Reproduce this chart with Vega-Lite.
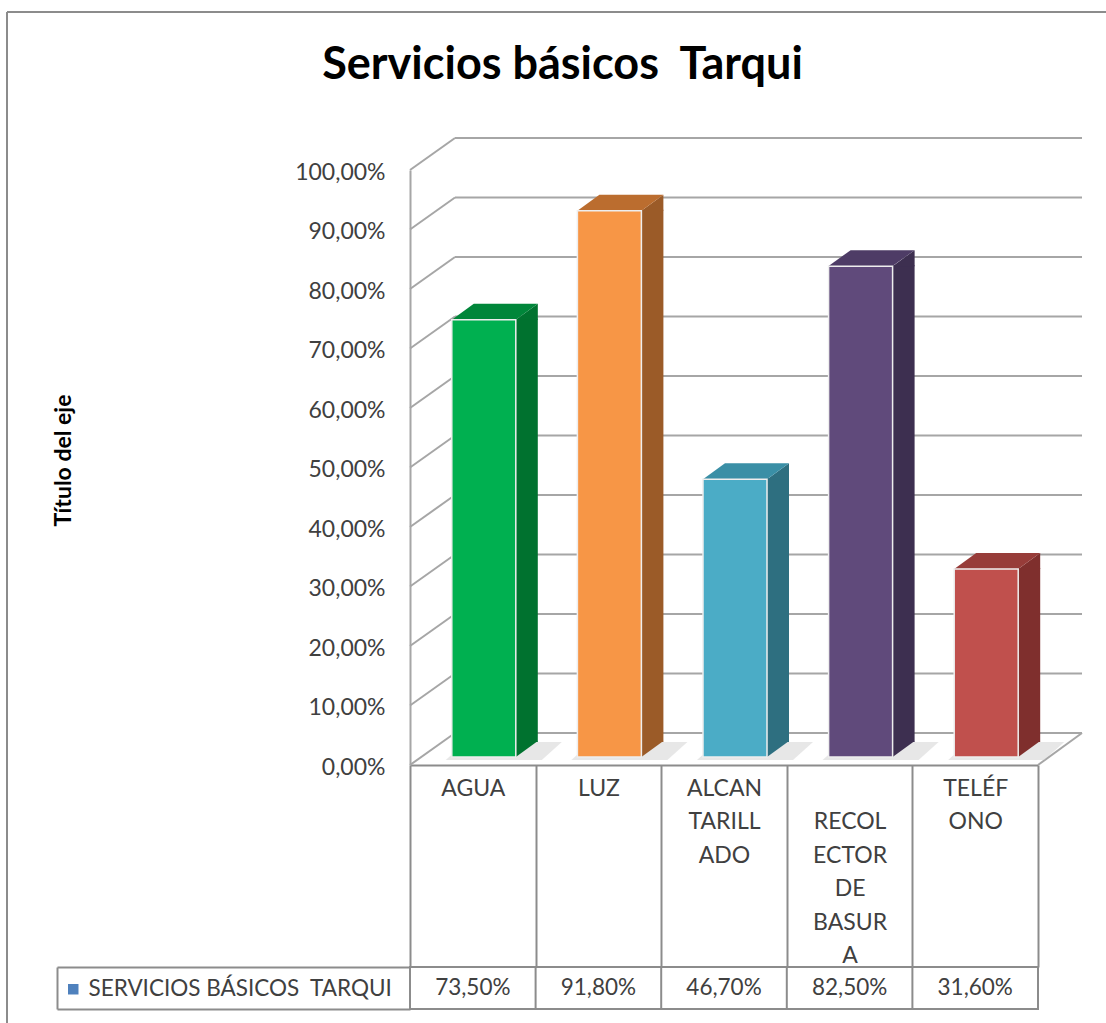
{
  "$schema": "https://vega.github.io/schema/vega-lite/v6.json",
  "padding": {"left": 6, "top": 11, "right": 0, "bottom": 0},
  "background": "white",
  "config": {
    "font": "Lato",
    "locale": {"number": {"decimal": ",", "thousands": ".", "grouping": [3], "currency": ["$", ""]}},
    "view": {"stroke": null}
  },
  "title": {"text": "Servicios básicos\u00a0 Tarqui", "font": "Lato", "fontSize": 45, "fontWeight": "bold", "color": "#000000", "anchor": "middle", "dx": 6, "offset": -113, "baseline": "alphabetic"},
  "datasets": {
    "servicios": [
      {"cat": "AGUA", "v": 0.735, "serie": "SERVICIOS BÁSICOS\u00a0 TARQUI"},
      {"cat": "LUZ", "v": 0.918, "serie": "SERVICIOS BÁSICOS\u00a0 TARQUI"},
      {"cat": "ALCANTARILLADO", "v": 0.467, "serie": "SERVICIOS BÁSICOS\u00a0 TARQUI"},
      {"cat": "RECOLECTOR DE BASURA", "v": 0.825, "serie": "SERVICIOS BÁSICOS\u00a0 TARQUI"},
      {"cat": "TELÉFONO", "v": 0.316, "serie": "SERVICIOS BÁSICOS\u00a0 TARQUI"}
    ],
    "ticks": [
      {"v": 0}, {"v": 0.1}, {"v": 0.2}, {"v": 0.3}, {"v": 0.4}, {"v": 0.5},
      {"v": 0.6}, {"v": 0.7}, {"v": 0.8}, {"v": 0.9}, {"v": 1}
    ]
  },
  "spacing": 202,
  "bounds": "flush",
  "vconcat": [
    {
      "width": 628,
      "height": 595,
      "resolve": {"scale": {"color": "independent"}},
      "layer": [
        {
          "data": {"name": "ticks"},
          "mark": {"type": "rule", "color": "#a6a6a6", "strokeWidth": 2, "xOffset": 45, "x2Offset": 44, "yOffset": -32},
          "encoding": {
            "x": {
              "datum": "AGUA", "type": "nominal", "bandPosition": 0,
              "scale": {"type": "band", "domain": ["AGUA", "LUZ", "ALCANTARILLADO", "RECOLECTOR DE BASURA", "TELÉFONO"], "paddingInner": 0, "paddingOuter": 0},
              "axis": {
                "orient": "bottom", "title": null,
                "domainColor": "#8c8c8c", "domainWidth": 2,
                "tickColor": "#8c8c8c", "tickWidth": 2, "tickSize": 202, "tickBand": "extent",
                "labelPadding": -190, "labelFontSize": 23, "labelColor": "#404040",
                "labelBaseline": "top", "labelLineHeight": 33.5, "labelAngle": 0, "labelAlign": "center",
                "labelExpr": "datum.value == 'ALCANTARILLADO' ? ['ALCAN','TARILL','ADO'] : datum.value == 'RECOLECTOR DE BASURA' ? ['','RECOL','ECTOR','DE','BASUR','A'] : datum.value == 'TELÉFONO' ? ['TELÉF','ONO'] : datum.value"
              }
            },
            "x2": {"datum": "TELÉFONO", "bandPosition": 1},
            "y": {
              "field": "v", "type": "quantitative",
              "scale": {"domain": [0, 1], "nice": false},
              "axis": {
                "title": "Título del eje", "titleFont": "Lato", "titleFontSize": 23, "titleFontWeight": "bold", "titleColor": "#000000",
                "titleX": -347, "titleY": 290, "titleBaseline": "middle", "titleAngle": -90, "titleAlign": "center",
                "format": ".2%", "values": [0, 0.1, 0.2, 0.3, 0.4, 0.5, 0.6, 0.7, 0.8, 0.9, 1],
                "grid": false, "ticks": false, "domain": true, "domainColor": "#a6a6a6", "domainWidth": 2,
                "labelPadding": 25, "labelFontSize": 23, "labelColor": "#404040", "labelOffset": 2
              }
            }
          }
        },
        {
          "data": {"name": "ticks"},
          "mark": {"type": "rule", "color": "#a6a6a6", "strokeWidth": 2, "x2Offset": 45, "y2Offset": -32},
          "encoding": {
            "x": {"datum": "AGUA", "type": "nominal", "bandPosition": 0},
            "x2": {"datum": "AGUA", "bandPosition": 0},
            "y": {"field": "v", "type": "quantitative"},
            "y2": {"field": "v"}
          }
        },
        {
          "data": {"values": [{}]},
          "mark": {"type": "rule", "color": "#a6a6a6", "strokeWidth": 2, "x2Offset": 44, "y2Offset": -32},
          "encoding": {
            "x": {"datum": "TELÉFONO", "type": "nominal", "bandPosition": 1},
            "x2": {"datum": "TELÉFONO", "bandPosition": 1},
            "y": {"datum": 0, "type": "quantitative"},
            "y2": {"datum": 0}
          }
        },
        {
          "data": {"values": [{}]},
          "mark": {"type": "rule", "color": "#8c8c8c", "strokeWidth": 2, "xOffset": -403, "x2Offset": 68, "yOffset": -158},
          "encoding": {
            "x": {"datum": "AGUA", "type": "nominal", "bandPosition": 0},
            "x2": {"datum": "TELÉFONO", "bandPosition": 1},
            "y": {"datum": 1, "type": "quantitative"}
          }
        },
        {
          "data": {"values": [{}]},
          "mark": {"type": "rule", "color": "#8c8c8c", "strokeWidth": 2, "xOffset": -403, "yOffset": -158, "y2Offset": 258},
          "encoding": {
            "x": {"datum": "AGUA", "type": "nominal", "bandPosition": 0},
            "y": {"datum": 1, "type": "quantitative"},
            "y2": {"datum": 0}
          }
        },
        {
          "data": {"name": "servicios"},
          "mark": {"type": "point", "filled": true, "opacity": 0.5, "strokeWidth": 0, "size": 13456, "shape": "M-1,0.155L0.655,0.155L1,-0.155L-0.655,-0.155Z", "xOffset": 31, "yOffset": -14, "color": "#d0d0d0"},
          "encoding": {
            "x": {"field": "cat", "type": "nominal", "title": null},
            "y": {"datum": 0, "type": "quantitative"}
          }
        },
        {
          "data": {"name": "servicios"},
          "mark": {"type": "bar", "width": 22, "xOffset": 54, "yOffset": -9, "y2Offset": -23},
          "encoding": {
            "x": {"field": "cat", "type": "nominal", "title": null},
            "y": {"field": "v", "type": "quantitative"},
            "y2": {"datum": 0},
            "color": {"field": "cat", "type": "nominal", "legend": null, "scale": {"domain": ["AGUA", "LUZ", "ALCANTARILLADO", "RECOLECTOR DE BASURA", "TELÉFONO"], "range": ["#00722f", "#9b5b28", "#2e6f80", "#3d2f50", "#7f2f2d"]}}
          }
        },
        {
          "data": {"name": "servicios"},
          "mark": {"type": "point", "filled": true, "opacity": 1, "strokeWidth": 0, "size": 484, "shape": "M-1,0.7273L1,-0.7273L1,0.7273Z", "xOffset": 54, "yOffset": -16},
          "encoding": {
            "x": {"field": "cat", "type": "nominal", "title": null},
            "y": {"field": "v", "type": "quantitative"},
            "color": {"field": "cat", "type": "nominal", "legend": null, "scale": {"domain": ["AGUA", "LUZ", "ALCANTARILLADO", "RECOLECTOR DE BASURA", "TELÉFONO"], "range": ["#00722f", "#9b5b28", "#2e6f80", "#3d2f50", "#7f2f2d"]}}
          }
        },
        {
          "data": {"name": "servicios"},
          "mark": {"type": "point", "filled": true, "opacity": 1, "strokeWidth": 0, "size": 484, "shape": "M-1,-0.7273L1,-0.7273L-1,0.7273Z", "xOffset": 54, "yOffset": -16},
          "encoding": {
            "x": {"field": "cat", "type": "nominal", "title": null},
            "y": {"datum": 0, "type": "quantitative"},
            "color": {"field": "cat", "type": "nominal", "legend": null, "scale": {"domain": ["AGUA", "LUZ", "ALCANTARILLADO", "RECOLECTOR DE BASURA", "TELÉFONO"], "range": ["#00722f", "#9b5b28", "#2e6f80", "#3d2f50", "#7f2f2d"]}}
          }
        },
        {
          "data": {"name": "servicios"},
          "mark": {"type": "point", "filled": true, "opacity": 1, "strokeWidth": 0, "size": 7396, "shape": "M-1,0.186L0.4884,0.186L1,-0.186L-0.4884,-0.186Z", "xOffset": 22, "yOffset": -16},
          "encoding": {
            "x": {"field": "cat", "type": "nominal", "title": null},
            "y": {"field": "v", "type": "quantitative"},
            "color": {"field": "cat", "type": "nominal", "legend": null, "scale": {"domain": ["AGUA", "LUZ", "ALCANTARILLADO", "RECOLECTOR DE BASURA", "TELÉFONO"], "range": ["#00863a", "#bb6d2f", "#3a8fa6", "#4e3c66", "#973c39"]}}
          }
        },
        {
          "data": {"name": "servicios"},
          "mark": {"type": "bar", "width": 64, "xOffset": 11, "yOffset": -8, "y2Offset": -8, "stroke": "#eeeeee", "strokeWidth": 1.5},
          "encoding": {
            "x": {"field": "cat", "type": "nominal", "title": null},
            "y": {"field": "v", "type": "quantitative"},
            "y2": {"datum": 0},
            "color": {"field": "cat", "type": "nominal", "legend": null, "scale": {"domain": ["AGUA", "LUZ", "ALCANTARILLADO", "RECOLECTOR DE BASURA", "TELÉFONO"], "range": ["#00b050", "#f79646", "#4bacc6", "#604a7b", "#c0504d"]}}
          }
        }
      ]
    },
    {
      "width": 628,
      "height": 42,
      "view": {"stroke": "#8c8c8c", "strokeWidth": 2},
      "data": {"name": "servicios"},
      "layer": [
        {
          "mark": {"type": "rule", "color": "#8c8c8c", "strokeWidth": 2},
          "encoding": {
            "x": {"field": "cat", "type": "nominal", "bandPosition": 0, "axis": null,
              "scale": {"type": "band", "domain": ["AGUA", "LUZ", "ALCANTARILLADO", "RECOLECTOR DE BASURA", "TELÉFONO"], "paddingInner": 0, "paddingOuter": 0}}
          }
        },
        {
          "mark": {"type": "text", "fontSize": 22.5, "color": "#404040"},
          "encoding": {
            "x": {"field": "cat", "type": "nominal", "axis": null},
            "y": {"field": "serie", "type": "nominal",
              "scale": {"type": "band", "paddingInner": 0, "paddingOuter": 0},
              "axis": {"orient": "left", "offset": 353, "labels": false, "title": null, "ticks": true, "tickSize": -353, "tickBand": "extent", "tickColor": "#8c8c8c", "tickWidth": 2, "domain": true, "domainColor": "#8c8c8c", "domainWidth": 2}},
            "text": {"field": "v", "type": "quantitative", "format": ".2%"}
          }
        },
        {
          "mark": {"type": "point", "filled": true, "opacity": 0},
          "encoding": {
            "x": {"field": "cat", "type": "nominal", "axis": null},
            "y": {"field": "serie", "type": "nominal"},
            "color": {"field": "serie", "type": "nominal", "scale": {"range": ["#4f81bd"]},
              "legend": {"orient": "none", "legendX": -348, "legendY": 808, "symbolType": "square", "symbolSize": 110, "symbolOpacity": 1, "symbolStrokeWidth": 0, "symbolFillColor": "#4f81bd", "labelFontSize": 22.5, "labelColor": "#404040", "labelLimit": 0, "title": null, "padding": 0, "labelOffset": 4}}
          }
        }
      ]
    }
  ]
}
